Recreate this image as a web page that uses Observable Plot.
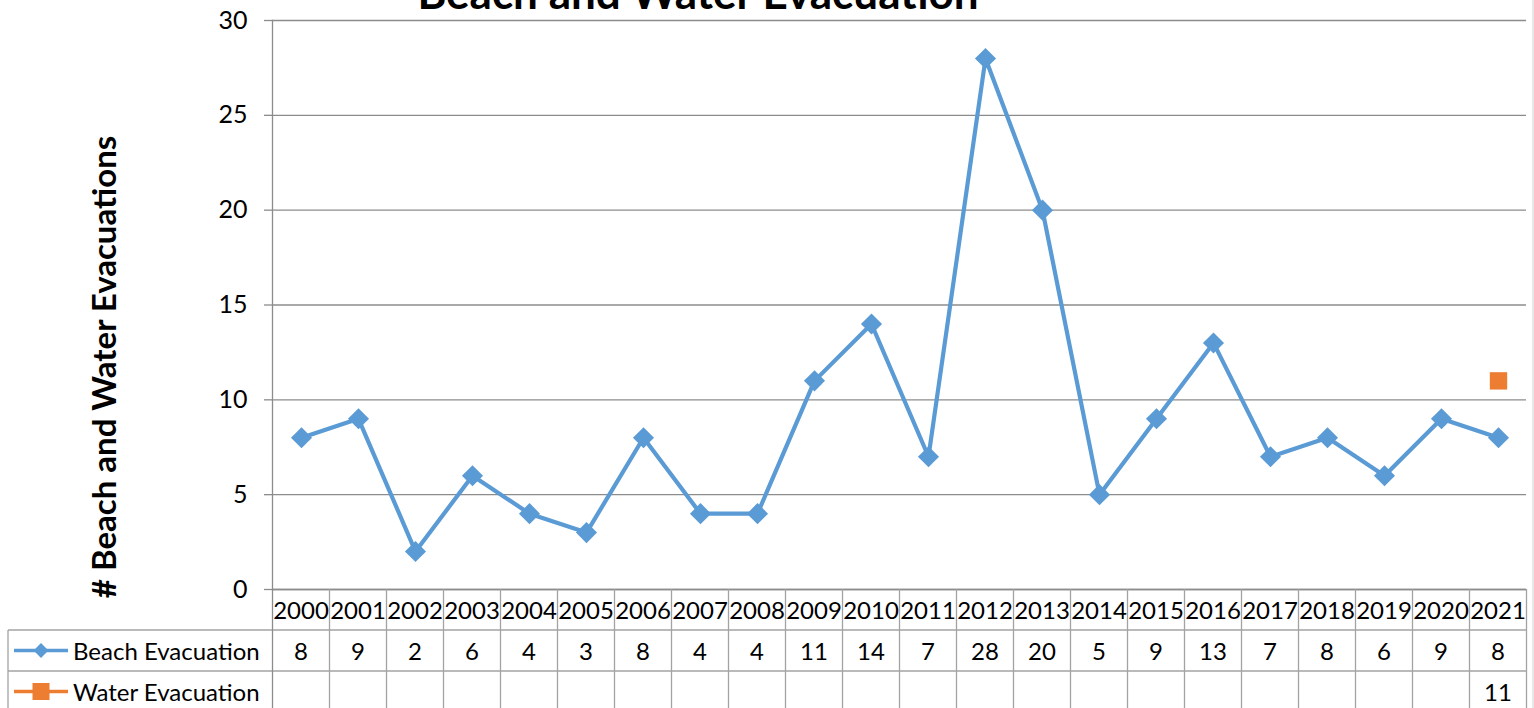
<!DOCTYPE html>
<html>
<head>
<meta charset="utf-8">
<script src="https://cdn.jsdelivr.net/npm/d3@7"></script>
<script src="https://cdn.jsdelivr.net/npm/@observablehq/plot@0.6"></script>
<style>
  html, body { margin: 0; padding: 0; background: #fff; }
  #chart svg { display: block; }
</style>
</head>
<body>
<div id="chart"></div>
<script>
// ---- data ----
const title = "Beach and Water Evacuation";
const yAxisLabel = "# Beach and Water Evacuations";
const years = [2000, 2001, 2002, 2003, 2004, 2005, 2006, 2007, 2008, 2009, 2010,
               2011, 2012, 2013, 2014, 2015, 2016, 2017, 2018, 2019, 2020, 2021];
const beachEvacuation = [8, 9, 2, 6, 4, 3, 8, 4, 4, 11, 14, 7, 28, 20, 5, 9, 13, 7, 8, 6, 9, 8];
const waterEvacuation = [null, null, null, null, null, null, null, null, null, null, null,
                         null, null, null, null, null, null, null, null, null, null, 11];
const seriesNames = ["Beach Evacuation", "Water Evacuation"];
const yTicks = [0, 5, 10, 15, 20, 25, 30];

// ---- styles ----
const blue = "#5B9BD5";
const orange = "#ED7D31";
const gridColor = "#8c8c8c";
const tableColor = "#a3a3a3";
const font = "'Lato', 'Noto Sans', sans-serif";
const boldFont = "'Lato', 'Noto Sans', sans-serif";
const tableFontSize = "24px";

const beachData = years.map((y, i) => ({year: String(y), value: beachEvacuation[i]}));
const waterData = years.map((y, i) => ({year: String(y), value: waterEvacuation[i]})).filter(d => d.value != null);

const W = 1534, H = 708;
const plot = Plot.plot({
  width: W,
  height: H,
  marginTop: 20,
  marginBottom: 119,
  marginLeft: 272,
  marginRight: 8,
  style: {fontFamily: font, fontSize: "25px", background: "#fff", color: "#000", overflow: "visible"},
  x: {type: "point", domain: years.map(String), padding: 0.5, axis: null},
  y: {domain: [0, 30], axis: null},
  marks: [
    Plot.gridY(yTicks, {stroke: gridColor, strokeOpacity: 1, strokeWidth: 1.3}),
    Plot.axisY(yTicks, {tickSize: 8, tickPadding: 17, stroke: gridColor, strokeWidth: 1.3, fontSize: 25, fill: "#000", label: null}),
    Plot.ruleY([0], {stroke: gridColor, strokeWidth: 1.3}),
    Plot.frame({anchor: "left", stroke: gridColor, strokeWidth: 1.3}),
    Plot.line(beachData, {x: "year", y: "value", stroke: blue, strokeWidth: 4.2}),
    Plot.dot(beachData, {x: "year", y: "value", symbol: "diamond2", r: 9.5, fill: blue, stroke: "none"}),
    Plot.dot(waterData, {x: "year", y: "value", symbol: "square", r: 9.8, fill: orange, stroke: "none"})
  ]
});
document.getElementById("chart").appendChild(plot);

// ---- data table, title, y label (positioned with the plot's scales) ----
const svg = d3.select(plot);
const xs = plot.scale("x");
const ys = plot.scale("y");
const step = xs.apply(String(years[1])) - xs.apply(String(years[0]));
const left = xs.apply(String(years[0])) - step / 2;
const right = xs.apply(String(years[years.length - 1])) + step / 2;
const top0 = ys.apply(0);
const rowH = 41;
const tableLeft = 8;
const g = svg.append("g").attr("text-anchor", "start");

// outer chart border on the right
g.append("line").attr("x1", W - 1).attr("x2", W - 1).attr("y1", 0).attr("y2", H)
  .attr("stroke", "#d0d0d0").attr("stroke-width", 1);

// horizontal table lines
[1, 2, 3].forEach(k => {
  g.append("line").attr("x1", tableLeft).attr("x2", right)
    .attr("y1", top0 + k * rowH).attr("y2", top0 + k * rowH)
    .attr("stroke", tableColor).attr("stroke-width", 1.3);
});
// vertical table lines
g.append("line").attr("x1", tableLeft).attr("x2", tableLeft).attr("y1", top0 + rowH).attr("y2", top0 + 3 * rowH)
  .attr("stroke", tableColor).attr("stroke-width", 1.3);
for (let i = 0; i <= years.length; i++) {
  const x = left + i * step;
  g.append("line").attr("x1", x).attr("x2", x).attr("y1", top0).attr("y2", top0 + 3 * rowH)
    .attr("stroke", i === 0 ? gridColor : tableColor).attr("stroke-width", 1.3);
}
// year header row
years.forEach((y, i) => {
  g.append("text").attr("x", xs.apply(String(y))).attr("y", top0 + rowH / 2)
    .attr("text-anchor", "middle").attr("dominant-baseline", "central")
    .style("font-family", font).style("font-size", tableFontSize).text(String(y));
});
// value rows
[beachEvacuation, waterEvacuation].forEach((arr, r) => {
  arr.forEach((v, i) => {
    if (v == null) return;
    g.append("text").attr("x", xs.apply(String(years[i]))).attr("y", top0 + rowH * (r + 1) + rowH / 2)
      .attr("text-anchor", "middle").attr("dominant-baseline", "central")
      .style("font-family", font).style("font-size", tableFontSize).text(String(v));
  });
});
// legend keys in table
const legendColors = [blue, orange];
seriesNames.forEach((name, r) => {
  const cy = top0 + rowH * (r + 1) + rowH / 2;
  g.append("line").attr("x1", 14).attr("x2", 68).attr("y1", cy).attr("y2", cy)
    .attr("stroke", legendColors[r]).attr("stroke-width", 3.5);
  if (r === 0) {
    g.append("path").attr("d", d3.symbol(d3.symbolDiamond2, 140)()).attr("transform", `translate(41,${cy})`).attr("fill", blue);
  } else {
    g.append("rect").attr("x", 41 - 8.5).attr("y", cy - 8.5).attr("width", 17).attr("height", 17).attr("fill", orange);
  }
  g.append("text").attr("x", 73).attr("y", cy).attr("text-anchor", "start").attr("dominant-baseline", "central")
    .style("font-family", font).style("font-size", tableFontSize).text(name);
});

// title (clipped at the top as in the original)
g.append("text").attr("x", 698).attr("y", 9).attr("text-anchor", "middle")
  .style("font-family", boldFont).style("font-weight", "bold").style("font-size", "44px").text(title);

// y axis label
g.append("text").attr("transform", "translate(103,367) rotate(-90)")
  .attr("text-anchor", "middle").attr("dominant-baseline", "central")
  .style("font-family", boldFont).style("font-weight", "bold").style("font-size", "33px").text(yAxisLabel);
</script>
</body>
</html>
